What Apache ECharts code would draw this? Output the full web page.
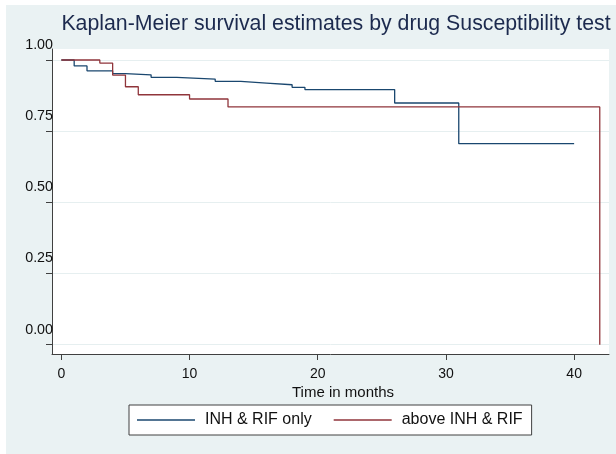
<!DOCTYPE html>
<html>
<head>
<meta charset="utf-8">
<script src="https://cdn.jsdelivr.net/npm/echarts@6/dist/echarts.min.js"></script>
<style>
html,body{margin:0;padding:0;background:#ffffff;}
#chart{width:616px;height:454px;}
</style>
</head>
<body>
<div id="chart"></div>
<script>
// Data
var titleText = 'Kaplan-Meier survival estimates by drug Susceptibility test';
var xAxisTitle = 'Time in months';
var seriesNames = ['INH & RIF only', 'above INH & RIF'];

var blueTimes = [0, 1, 2, 4, 5, 7, 9, 12, 14, 16, 18, 19, 26, 31, 40];
var blueSurv  = [1.000, 0.979, 0.962, 0.952, 0.948, 0.939, 0.933, 0.925, 0.919, 0.913, 0.904, 0.896, 0.849, 0.706, 0.706];

var redTimes = [0, 3, 4, 5, 6, 10, 13, 42];
var redSurv  = [1.000, 0.989, 0.947, 0.906, 0.878, 0.863, 0.835, 0.000];

var xTicks = [0, 10, 20, 30, 40];
var yTicks = [0, 0.25, 0.5, 0.75, 1];

function pairs(t, s) { return t.map(function (v, i) { return [v, s[i]]; }); }

var chart = echarts.init(document.getElementById('chart'), null, {renderer: 'canvas'});
var axisColor = '#404040';
var gridColor = '#e6eff0';
var fontFam = 'Liberation Sans, Arial, sans-serif';

chart.setOption({
  animation: false,
  backgroundColor: '#ffffff',
  graphic: [{
    type: 'rect', z: -10, silent: true,
    shape: {x: 6, y: 5, width: 610, height: 449},
    style: {fill: '#eaf2f3'}
  }],
  title: [{
    text: titleText,
    left: 331, top: 9, textAlign: 'center',
    textStyle: {fontFamily: fontFam, fontSize: 21.3, fontWeight: 'normal', color: '#1c2a4e'}
  }, {
    text: xAxisTitle,
    left: 338, top: 380, textAlign: 'center',
    textStyle: {fontFamily: fontFam, fontSize: 15, fontWeight: 'normal', color: '#111'}
  }],
  legend: {
    left: 129, top: 405,
    padding: [7, 9, 7, 8],
    icon: 'rect',
    itemWidth: 58, itemHeight: 1.3, itemGap: 22,
    backgroundColor: '#ffffff',
    borderColor: '#404040', borderWidth: 1, borderRadius: 0,
    textStyle: {fontFamily: fontFam, fontSize: 16, lineHeight: 16, color: '#111', padding: [0, 0, 0, 5]},
    data: seriesNames
  },
  grid: {
    left: 52, right: 7, top: 49, bottom: 100,
    show: true, backgroundColor: '#ffffff', borderWidth: 0,
    containLabel: false
  },
  xAxis: {
    type: 'value',
    min: -0.73, max: 42.72,
    axisLine: {show: true, onZero: false, lineStyle: {color: axisColor, width: 1}},
    axisTick: {show: true, length: 6, lineStyle: {color: axisColor}, customValues: xTicks},
    axisLabel: {customValues: xTicks, margin: 13, fontFamily: fontFam, fontSize: 14, color: '#111',
      showMinLabel: true, showMaxLabel: true},
    splitLine: {show: false}
  },
  yAxis: {
    type: 'value',
    min: -0.0326, max: 1.0386,
    axisLine: {show: true, onZero: false, lineStyle: {color: axisColor, width: 1}},
    axisTick: {show: true, length: 6, lineStyle: {color: axisColor}, customValues: yTicks},
    axisLabel: {customValues: yTicks, margin: -1, fontFamily: fontFam, fontSize: 14.3, color: '#111',
      verticalAlign: 'bottom', lineHeight: 14, padding: [0, 0, 8, 0],
      formatter: function (v) { return v.toFixed(2); }},
    splitLine: {show: false}
  },
  series: [{
    name: seriesNames[0], type: 'line', step: 'end',
    symbol: 'none', showSymbol: false,
    data: pairs(blueTimes, blueSurv),
    lineStyle: {color: '#1a476f', width: 1.3},
    itemStyle: {color: '#1a476f'},
    markLine: {
      silent: true, symbol: 'none', label: {show: false}, animation: false,
      lineStyle: {color: gridColor, width: 1, type: 'solid'},
      data: yTicks.map(function (v) { return {yAxis: v}; }),
      z: 0
    },
    z: 3
  }, {
    name: seriesNames[1], type: 'line', step: 'end',
    symbol: 'none', showSymbol: false,
    data: pairs(redTimes, redSurv),
    lineStyle: {color: '#90353b', width: 1.3},
    itemStyle: {color: '#90353b'},
    z: 4
  }]
});
</script>
</body>
</html>
